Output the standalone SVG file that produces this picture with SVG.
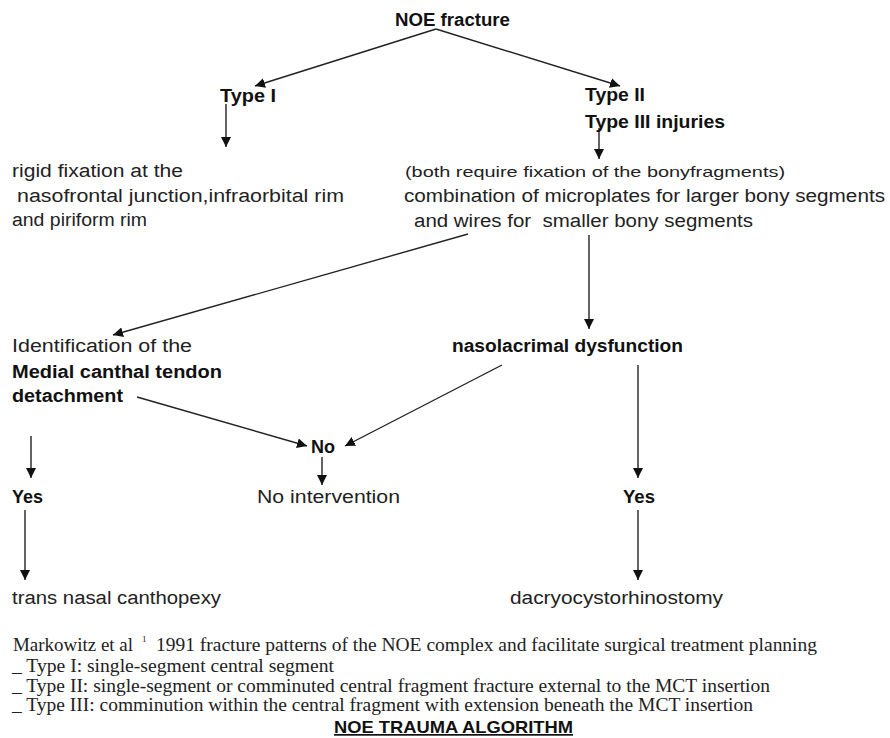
<svg xmlns="http://www.w3.org/2000/svg" width="890" height="738" viewBox="0 0 890 738">
<defs>
<marker id="ah" markerWidth="10" markerHeight="10" viewBox="0 0 10 10" refX="10" refY="5" orient="auto" markerUnits="userSpaceOnUse">
<path d="M0,0 L10,5 L0,10 z" fill="#111"/>
</marker>
<style>
.t{font-family:"Liberation Sans",Arial,sans-serif;font-size:18px;fill:#222}
.b{font-weight:bold;fill:#111}
.s{font-size:15px}
.f{font-family:"Liberation Serif","Times New Roman",serif;font-size:18px;fill:#222}
.c{stroke:#222;stroke-width:1.4;fill:none}
.a{marker-end:url(#ah)}
</style>
</defs>
<rect width="890" height="738" fill="#fff"/>
<g id="connectors">
<polyline class="c a" points="436,29 255,86"/>
<polyline class="c a" points="436,29 620,86"/>
<line class="c a" x1="226" y1="104" x2="226" y2="147"/>
<line class="c a" x1="599" y1="128" x2="599" y2="159"/>
<line class="c a" x1="468" y1="234" x2="113" y2="335"/>
<line class="c a" x1="589" y1="235" x2="589" y2="329"/>
<line class="c a" x1="137" y1="397" x2="307" y2="446"/>
<line class="c a" x1="502" y1="365" x2="345" y2="446"/>
<line class="c a" x1="322" y1="457" x2="322" y2="485"/>
<line class="c a" x1="31" y1="436" x2="31" y2="478"/>
<line class="c a" x1="25" y1="510" x2="25" y2="580"/>
<line class="c a" x1="638" y1="365" x2="638" y2="478"/>
<line class="c a" x1="638" y1="510" x2="638" y2="580"/>
</g>
<g id="noe"><text class="t b" x="395" y="26" textLength="115" lengthAdjust="spacingAndGlyphs">NOE fracture</text></g>
<g id="type1"><text class="t b" x="220" y="102" textLength="56" lengthAdjust="spacingAndGlyphs">Type I</text></g>
<g id="type23">
<text class="t b" x="585" y="101" textLength="60" lengthAdjust="spacingAndGlyphs">Type II</text>
<text class="t b" x="585" y="128" textLength="140" lengthAdjust="spacingAndGlyphs">Type III injuries</text>
</g>
<g id="rigid">
<text class="t" x="12" y="177" textLength="171" lengthAdjust="spacingAndGlyphs">rigid fixation at the</text>
<text class="t" x="17" y="202" textLength="327" lengthAdjust="spacingAndGlyphs">nasofrontal junction,infraorbital rim</text>
<text class="t" x="12" y="226" textLength="135" lengthAdjust="spacingAndGlyphs">and piriform rim</text>
</g>
<g id="combination">
<text class="t s" x="405" y="177" textLength="380" lengthAdjust="spacingAndGlyphs">(both require fixation of the bonyfragments)</text>
<text class="t" x="404" y="202" textLength="481" lengthAdjust="spacingAndGlyphs">combination of microplates for larger bony segments</text>
<text class="t" x="414" y="227" textLength="339" lengthAdjust="spacingAndGlyphs">and wires for &#160;smaller bony segments</text>
</g>
<g id="mct">
<text class="t" x="12" y="352" textLength="180" lengthAdjust="spacingAndGlyphs">Identification of the</text>
<text class="t b" x="12" y="378" textLength="210" lengthAdjust="spacingAndGlyphs">Medial canthal tendon</text>
<text class="t b" x="12" y="402" textLength="111" lengthAdjust="spacingAndGlyphs">detachment</text>
</g>
<g id="naso"><text class="t b" x="452" y="352" textLength="231" lengthAdjust="spacingAndGlyphs">nasolacrimal dysfunction</text></g>
<g id="no"><text class="t b" x="311" y="453" textLength="24" lengthAdjust="spacingAndGlyphs">No</text></g>
<g id="nointervention"><text class="t" x="257" y="503" textLength="143" lengthAdjust="spacingAndGlyphs">No intervention</text></g>
<g id="yes1"><text class="t b" x="12" y="503" textLength="31" lengthAdjust="spacingAndGlyphs">Yes</text></g>
<g id="yes2"><text class="t b" x="623" y="503" textLength="32" lengthAdjust="spacingAndGlyphs">Yes</text></g>
<g id="canthopexy"><text class="t" x="12" y="604" textLength="209" lengthAdjust="spacingAndGlyphs">trans nasal canthopexy</text></g>
<g id="dcr"><text class="t" x="510" y="604" textLength="213" lengthAdjust="spacingAndGlyphs">dacryocystorhinostomy</text></g>
<g id="footer">
<text class="f" x="13" y="651" textLength="120" lengthAdjust="spacingAndGlyphs">Markowitz et al</text>
<text class="f" x="142" y="642" style="font-size:9px">1</text>
<text class="f" x="156" y="651" textLength="661" lengthAdjust="spacingAndGlyphs">1991 fracture patterns of the NOE complex and facilitate surgical treatment planning</text>
<text class="f" x="12" y="672" textLength="322" lengthAdjust="spacingAndGlyphs">_ Type I: single-segment central segment</text>
<text class="f" x="12" y="692" textLength="758" lengthAdjust="spacingAndGlyphs">_ Type II: single-segment or comminuted central fragment fracture external to the MCT insertion</text>
<text class="f" x="12" y="711" textLength="741" lengthAdjust="spacingAndGlyphs">_ Type III: comminution within the central fragment with extension beneath the MCT insertion</text>
<text class="t b" x="334" y="733" style="font-size:17px;text-decoration:underline" textLength="239" lengthAdjust="spacingAndGlyphs">NOE TRAUMA ALGORITHM</text>
</g>
</svg>
